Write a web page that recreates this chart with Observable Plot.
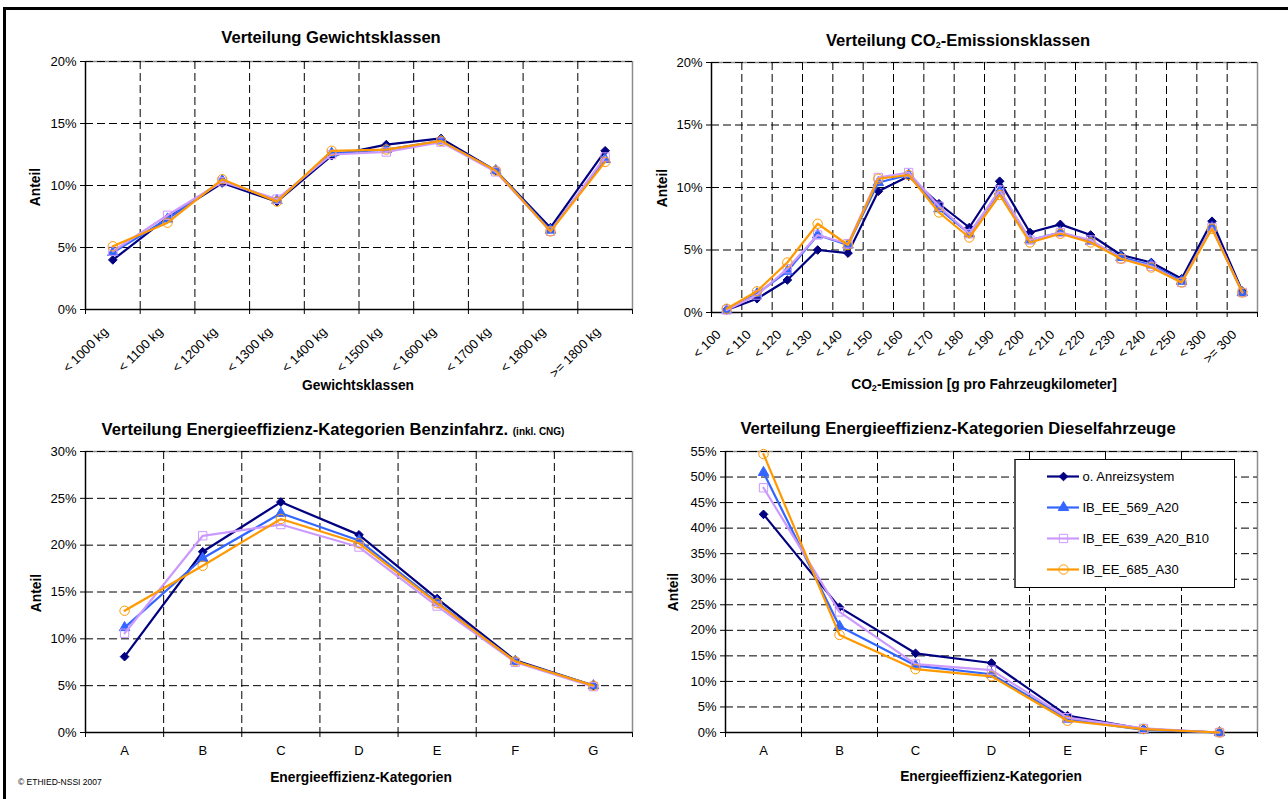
<!DOCTYPE html>
<html><head><meta charset="utf-8">
<script src="https://cdn.jsdelivr.net/npm/d3@7"></script>
<script src="https://cdn.jsdelivr.net/npm/@observablehq/plot@0.6"></script>
<style>
html,body{margin:0;padding:0;background:#fff;}
#root{position:relative;width:1288px;height:799px;overflow:hidden;background:#fff;font-family:"Liberation Sans",Arial,sans-serif;color:#000;}
.title{position:absolute;font-weight:bold;font-size:16.6px;white-space:nowrap;transform:translate(-50%,-50%);}
.xt{position:absolute;font-weight:bold;font-size:13.8px;white-space:nowrap;transform:translate(-50%,-50%);}
.yt{position:absolute;font-weight:bold;font-size:13.8px;white-space:nowrap;transform:translate(-50%,-50%) rotate(-90deg);}
svg{overflow:visible;}
svg.chart text{font-size:13px !important;font-family:"Liberation Sans",Arial,sans-serif !important;fill:#000;}
sub{font-size:9px;vertical-align:-2px;}
</style></head>
<body><div id="root"></div>
<script>
// ---- series ----
const seriesNames = ["o. Anreizsystem","IB_EE_569_A20","IB_EE_639_A20_B10","IB_EE_685_A30"];
const seriesColors = ["#000080","#3366ff","#cc99ff","#ff9900"];
const seriesSymbols = ["diamond2","triangle","square","circle"];

// ---- Gewichtsklassen ----
const weightClasses = ["< 1000 kg","< 1100 kg","< 1200 kg","< 1300 kg","< 1400 kg","< 1500 kg","< 1600 kg","< 1700 kg","< 1800 kg",">= 1800 kg"];
const weightBase   = [4.0, 7.4, 10.2, 8.7, 12.4, 13.3, 13.8, 11.2, 6.6, 12.8];
const weightA20    = [4.6, 7.3, 10.4, 8.8, 12.6, 12.9, 13.6, 11.2, 6.4, 12.1];
const weightA20B10 = [4.7, 7.6, 10.3, 8.9, 12.5, 12.7, 13.5, 11.1, 6.3, 12.3];
const weightA30    = [5.1, 7.0, 10.5, 8.7, 12.8, 12.9, 13.6, 11.2, 6.3, 11.9];

// ---- CO2-Emissionsklassen ----
const co2Classes = ["< 100","< 110","< 120","< 130","< 140","< 150","< 160","< 170","< 180","< 190","< 200","< 210","< 220","< 230","< 240","< 250","< 300",">= 300"];
const co2Base   = [0.2,1.1,2.6,5.0,4.75,9.7,10.9,8.7,6.8,10.5,6.4,7.05,6.2,4.6,4.0,2.7,7.3,1.7];
const co2A20    = [0.2,1.5,3.3,6.2,5.4,10.4,11.0,8.3,6.3,9.7,5.8,6.4,5.7,4.4,3.8,2.5,6.8,1.6];
const co2A20B10 = [0.2,1.4,3.5,6.2,5.5,10.8,11.2,8.5,6.3,9.8,5.8,6.4,5.8,4.3,3.7,2.4,6.8,1.6];
const co2A30    = [0.3,1.7,4.0,7.1,5.4,10.7,11.0,8.0,6.0,9.4,5.6,6.3,5.6,4.3,3.6,2.4,6.7,1.6];

// ---- Energieeffizienz-Kategorien ----
const effClasses = ["A","B","C","D","E","F","G"];
const petrolBase   = [8.1,19.3,24.6,21.1,14.3,7.7,5.0];
const petrolA20    = [11.2,18.6,23.4,20.5,13.9,7.6,5.0];
const petrolA20B10 = [10.6,21.0,22.2,19.8,13.5,7.5,4.9];
const petrolA30    = [13.0,17.8,22.8,20.2,13.8,7.6,5.0];

const dieselBase   = [42.7,24.5,15.5,13.6,3.3,0.65,0.0];
const dieselA20    = [50.9,20.8,13.1,11.4,2.6,0.5,0.0];
const dieselA20B10 = [47.9,23.6,13.4,12.2,2.9,0.8,0.0];
const dieselA30    = [54.5,19.1,12.4,11.0,2.3,0.65,0.0];

const root = document.getElementById("root");
const FONT = '"Liberation Sans", Arial, sans-serif';

function place(el, left, top) {
  el.style.position = "absolute";
  el.style.left = left + "px";
  el.style.top = top + "px";
  root.appendChild(el);
}
function label(cls, html, x, y) {
  const d = document.createElement("div");
  d.className = cls;
  d.innerHTML = html;
  d.style.left = x + "px";
  d.style.top = y + "px";
  root.appendChild(d);
}
function symR(k) { return k === 0 ? 3.9 : k === 1 ? 3.9 : 4.7; }

function lineChart(o) {
  const {cats, series, yMax, left, top, width, height, mL, mR, mT, mB, rotate, padX, dxX} = o;
  const n = cats.length;
  const idx = d3.range(n);
  const bounds = d3.range(n + 1).map(k => k - 0.5);
  const yTicks = d3.range(0, yMax + 0.001, 5);
  const marks = [
    Plot.ruleY([yMax], {stroke: "#8c8c8c", strokeWidth: 1.5}),
    Plot.ruleX([n - 0.5], {stroke: "#8c8c8c", strokeWidth: 1.5}),
    Plot.ruleY(yTicks.filter(t => t > 0), {stroke: "#000", strokeWidth: 1, strokeDasharray: "8,4"}),
    Plot.ruleX(bounds.slice(1, -1), {stroke: "#000", strokeWidth: 1, strokeDasharray: "8,4"}),
    Plot.ruleX([-0.5], {stroke: "#000", strokeWidth: 1.5}),
    Plot.ruleY([0], {stroke: "#000", strokeWidth: 1.5}),
    Plot.axisY(yTicks, {tickSize: 5, tickPadding: 4, tickFormat: d => d + "%", label: null}),
    Plot.axisX(bounds, {tickSize: 5, tickFormat: () => "", label: null}),
    Plot.axisX(idx, {tickSize: 0, tickPadding: padX, dx: dxX, tickRotate: rotate, tickFormat: i => cats[i], label: null})
  ];
  series.forEach((vals, k) => {
    const rows = vals.map((v, i) => ({i, v}));
    const open = k >= 2;
    marks.push(Plot.lineY(rows, {x: "i", y: "v", stroke: seriesColors[k], strokeWidth: 2.2}));
    marks.push(Plot.dot(rows, {
      x: "i", y: "v", symbol: seriesSymbols[k], r: symR(k),
      fill: open ? "none" : seriesColors[k],
      stroke: seriesColors[k], strokeWidth: 1
    }));
  });
  const svg = Plot.plot({
    className: "chart",
    width, height, marginLeft: mL, marginRight: mR, marginTop: mT, marginBottom: mB,
    x: {domain: [-0.5, n - 0.5], axis: null},
    y: {domain: [0, yMax], axis: null},
    style: {fontFamily: FONT, fontSize: "13px", color: "#000", background: "transparent", overflow: "visible"},
    marks
  });
  place(svg, left, top);
}

// outer frame
const frame = document.createElement("div");
frame.style.cssText = "width:1300px;height:810px;border-top:3px solid #000;border-left:3px solid #000;";
place(frame, 3, 7);

// Chart 1
lineChart({cats: weightClasses, series: [weightBase, weightA20, weightA20B10, weightA30], yMax: 20,
  left: 0, top: 40, width: 644, height: 340, mL: 85, mR: 12, mT: 21, mB: 71, rotate: -45, padX: 20, dxX: -7});
// Chart 2
lineChart({cats: co2Classes, series: [co2Base, co2A20, co2A20B10, co2A30], yMax: 20,
  left: 644, top: 40, width: 644, height: 340, mL: 67, mR: 31, mT: 22, mB: 68, rotate: -45, padX: 20, dxX: -8});
// Chart 3
lineChart({cats: effClasses, series: [petrolBase, petrolA20, petrolA20B10, petrolA30], yMax: 30,
  left: 0, top: 440, width: 644, height: 330, mL: 85, mR: 12, mT: 11, mB: 38, rotate: 0, padX: 13, dxX: 0});
// Chart 4
lineChart({cats: effClasses, series: [dieselBase, dieselA20, dieselA20B10, dieselA30], yMax: 55,
  left: 644, top: 440, width: 644, height: 330, mL: 81, mR: 31, mT: 11, mB: 38, rotate: 0, padX: 13, dxX: 0});

// Titles
label("title", "Verteilung Gewichtsklassen", 331, 38);
label("title", "Verteilung CO<sub>2</sub>-Emissionsklassen", 958, 41);
label("title", 'Verteilung Energieeffizienz-Kategorien Benzinfahrz. <span style="font-size:10px">(inkl. CNG)</span>', 333, 430);
label("title", "Verteilung Energieeffizienz-Kategorien Dieselfahrzeuge", 958, 429);

label("yt", "Anteil", 35, 187);
label("yt", "Anteil", 662, 188);
label("yt", "Anteil", 36, 593);
label("yt", "Anteil", 673, 592);

label("xt", "Gewichtsklassen", 358, 385);
label("xt", "CO<sub>2</sub>-Emission [g pro Fahrzeugkilometer]", 984, 385);
label("xt", "Energieeffizienz-Kategorien", 361, 777);
label("xt", "Energieeffizienz-Kategorien", 991, 776);

const foot = document.createElement("div");
foot.style.cssText = "font-size:8.5px;white-space:nowrap;";
foot.textContent = "© ETHIED-NSSI 2007";
place(foot, 18, 777);

// Legend
const legBox = document.createElement("div");
legBox.style.cssText = "width:221px;height:129px;box-sizing:border-box;border:1px solid #000;border-left:2px solid #555;background:#fff;";
place(legBox, 1014, 459);
const legMarks = [];
seriesNames.forEach((s, k) => {
  legMarks.push(Plot.ruleY([s], {x1: 0, x2: 1, stroke: seriesColors[k], strokeWidth: 2.2}));
  legMarks.push(Plot.dot([s], {x: () => 0.5, y: d => d, symbol: seriesSymbols[k], r: symR(k),
    fill: k >= 2 ? "none" : seriesColors[k], stroke: seriesColors[k], strokeWidth: 1}));
  legMarks.push(Plot.text([s], {x: () => 1, y: d => d, text: d => d, textAnchor: "start", dx: 3, fontSize: 13, fill: "#000"}));
});
const legSvg = Plot.plot({
  width: 221, height: 129, marginLeft: 33, marginRight: 156, marginTop: 16, marginBottom: 18,
  x: {domain: [0, 1], axis: null},
  y: {type: "point", domain: seriesNames, axis: null, padding: 0},
  style: {fontFamily: FONT, fontSize: "13px", color: "#000", background: "transparent", overflow: "visible", maxWidth: "none"},
  marks: legMarks
});
place(legSvg, 1014, 459);
</script>
</body></html>
